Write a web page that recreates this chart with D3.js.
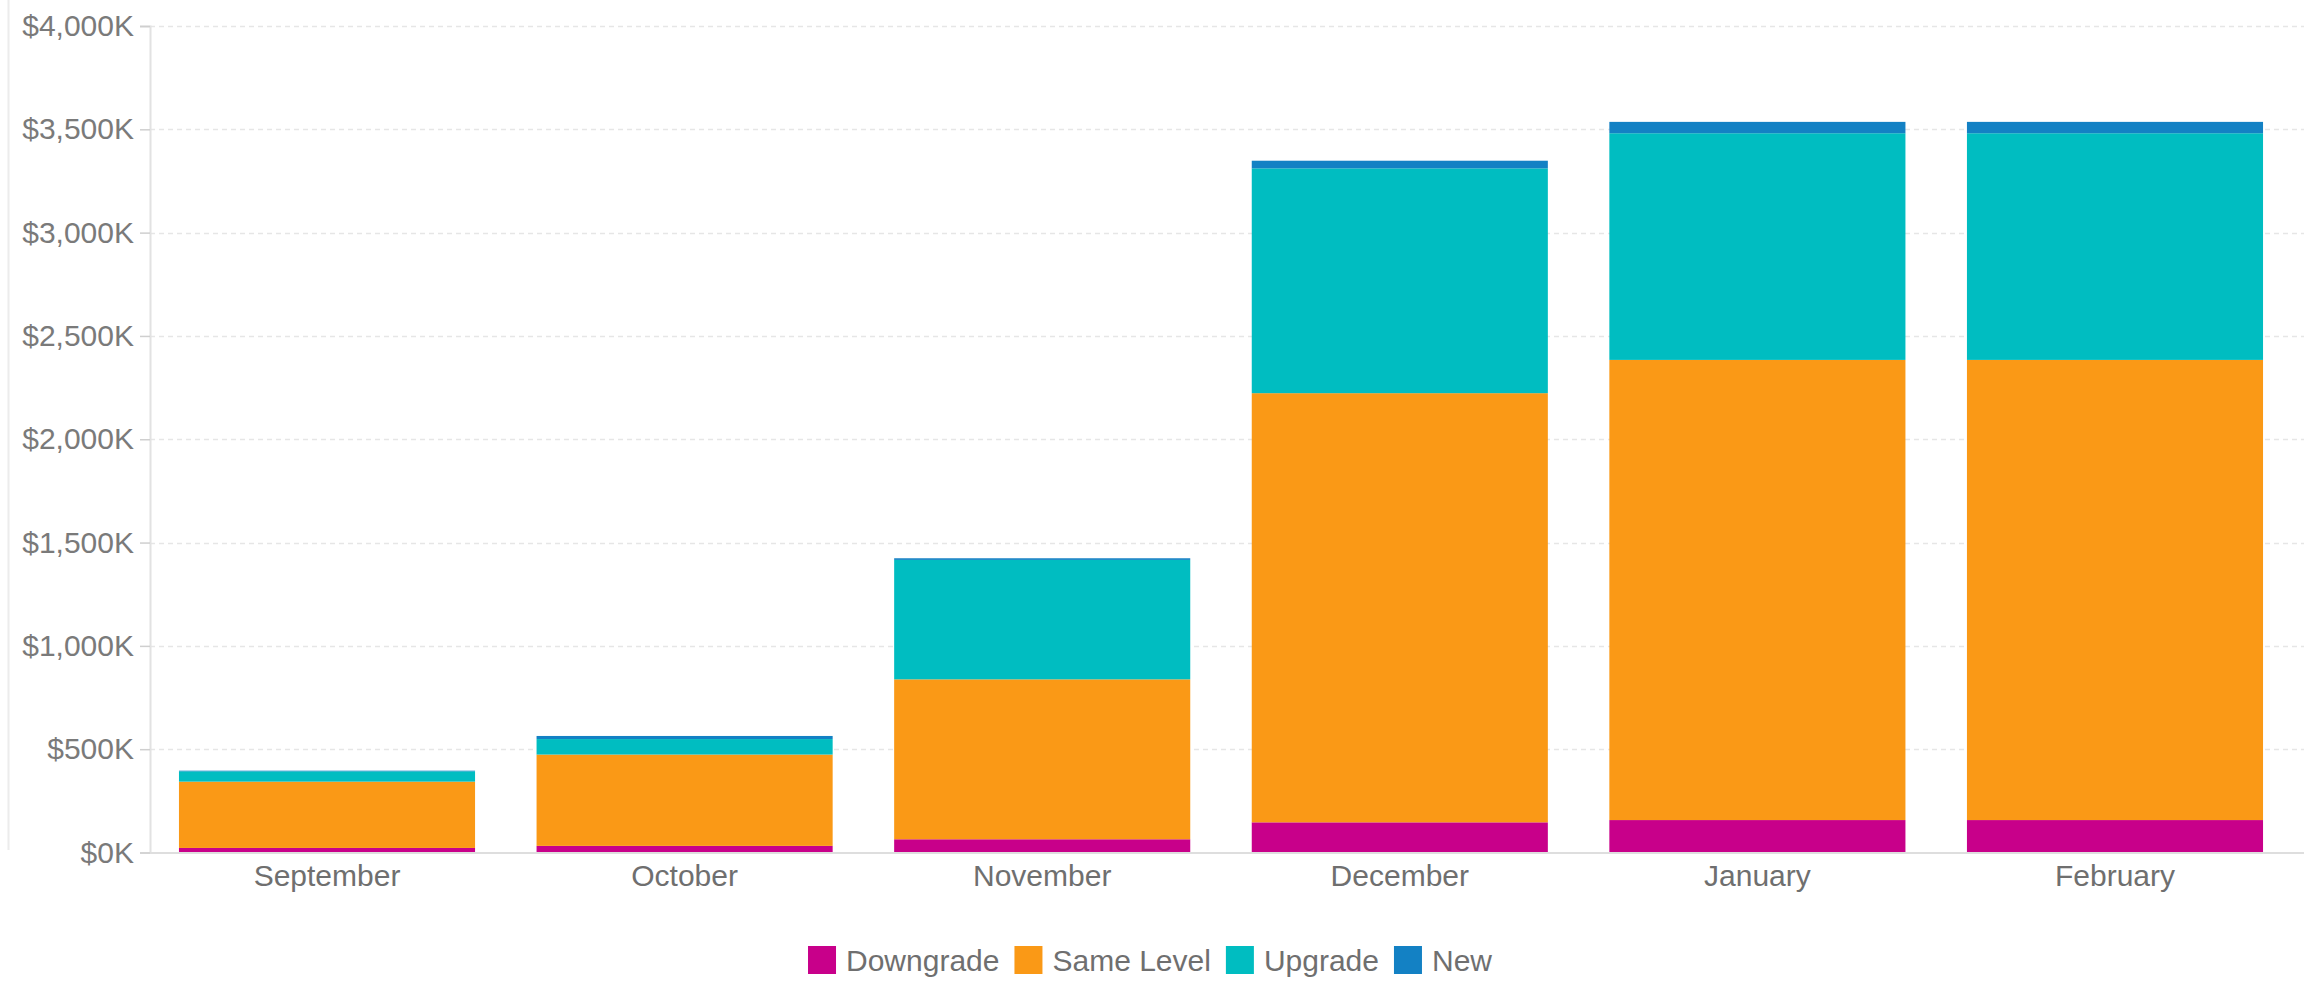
<!DOCTYPE html>
<html>
<head>
<meta charset="utf-8">
<script src="https://cdn.jsdelivr.net/npm/d3@7"></script>
<style>
  html, body { margin: 0; padding: 0; background: #fff; }
  svg { display: block; font-family: "Liberation Sans", Arial, sans-serif; }
</style>
</head>
<body>
<svg id="chart" width="2304" height="987"></svg>
<script>
// Monthly revenue, in $K, split by change type
const months = ["September", "October", "November", "December", "January", "February"];
const seriesNames = ["Downgrade", "Same Level", "Upgrade", "New"];
const downgrade = [22, 32, 64, 146, 157, 157];
const sameLevel = [321, 442, 774, 2077, 2227, 2227];
const upgrade   = [50, 75, 578, 1088, 1097, 1097];
const newBiz    = [3, 15, 8, 37, 55, 55];
const yTicks = [0, 500, 1000, 1500, 2000, 2500, 3000, 3500, 4000];
const colors = ["#c8008a", "#fa9916", "#00bdc1", "#1381c4"];

const rows = months.map((m, i) => ({
  month: m,
  "Downgrade": downgrade[i],
  "Same Level": sameLevel[i],
  "Upgrade": upgrade[i],
  "New": newBiz[i]
}));

const svg = d3.select("#chart");

const x = d3.scaleBand()
  .domain(months)
  .range([150, 2292])
  .paddingInner(0.172)
  .paddingOuter(0.081);

const y = d3.scaleLinear()
  .domain([0, 4000])
  .range([852.5, 26]);

const color = d3.scaleOrdinal().domain(seriesNames).range(colors);

// faint card edge on the left
svg.append("line")
  .attr("x1", 8.5).attr("x2", 8.5)
  .attr("y1", 0).attr("y2", 850)
  .attr("stroke", "#ececec").attr("stroke-width", 2);

// dashed gridlines
svg.append("g")
  .selectAll("line")
  .data(yTicks.filter(d => d > 0))
  .join("line")
  .attr("x1", 150).attr("x2", 2304)
  .attr("y1", d => Math.round(y(d)) + 0.5)
  .attr("y2", d => Math.round(y(d)) + 0.5)
  .attr("stroke", "#e6e6e6")
  .attr("stroke-width", 1.5)
  .attr("stroke-dasharray", "5,4");

// stacked bars
const stack = d3.stack().keys(seriesNames);
const layers = stack(rows);

svg.append("g")
  .selectAll("g")
  .data(layers)
  .join("g")
  .attr("fill", d => color(d.key))
  .selectAll("rect")
  .data(d => d)
  .join("rect")
  .attr("x", d => x(d.data.month))
  .attr("width", x.bandwidth())
  .attr("y", d => y(d[1]))
  .attr("height", d => y(d[0]) - y(d[1]));

// y axis
const yAxis = svg.append("g")
  .attr("transform", "translate(150,0)")
  .call(d3.axisLeft(y)
    .tickValues(yTicks)
    .tickSize(10)
    .tickPadding(6)
    .tickFormat(d => "$" + d3.format(",")(d) + "K"));
yAxis.select(".domain").attr("stroke", "#e2e2e2").attr("stroke-width", 2);
yAxis.selectAll(".tick line").attr("stroke", "#cfcfcf").attr("stroke-width", 1.5);
yAxis.selectAll(".tick text")
  .attr("fill", "#7a7a7a")
  .style("font-size", "30px");

// baseline
svg.append("line")
  .attr("x1", 150).attr("x2", 2304)
  .attr("y1", y(0) + 0.5).attr("y2", y(0) + 0.5)
  .attr("stroke", "#dedede").attr("stroke-width", 2);

// x axis labels
const xAxis = svg.append("g")
  .attr("transform", `translate(0,${y(0)})`)
  .call(d3.axisBottom(x).tickSize(0).tickPadding(12));
xAxis.select(".domain").remove();
xAxis.selectAll(".tick text")
  .attr("fill", "#6f6f6f")
  .style("font-size", "30px");

// legend
const legend = svg.append("g");
const items = legend.selectAll("g")
  .data(seriesNames)
  .join("g");
items.append("rect")
  .attr("width", 28).attr("height", 28)
  .attr("y", 946)
  .attr("fill", d => color(d));
items.append("text")
  .attr("x", 38)
  .attr("y", 960)
  .attr("dy", "0.35em")
  .attr("fill", "#6f6f6f")
  .style("font-size", "30px")
  .text(d => d);

let offset = 0;
const positions = [];
items.each(function () {
  const w = d3.select(this).select("text").node().getComputedTextLength();
  positions.push(offset);
  offset += 38 + w + 15;
});
const total = offset - 15;
const start = 1150 - total / 2;
items.attr("transform", (d, i) => `translate(${start + positions[i]},0)`);
</script>
</body>
</html>
